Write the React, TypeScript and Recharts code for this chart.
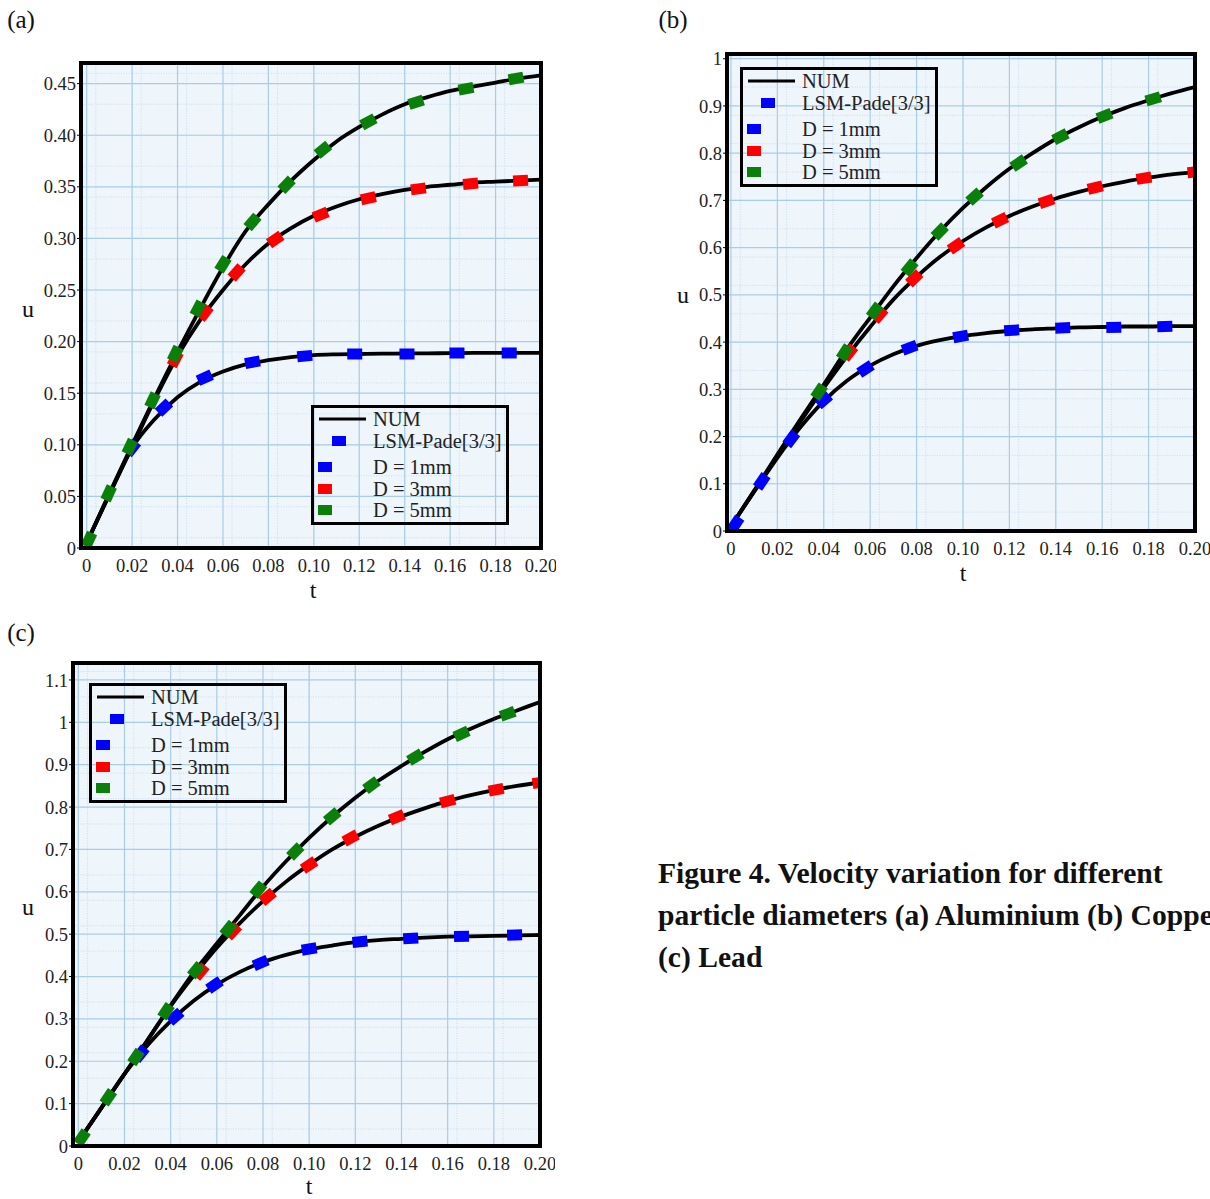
import {
  ComposedChart,
  Line,
  Scatter,
  XAxis,
  YAxis,
  CartesianGrid,
  ReferenceArea,
  Legend,
} from "recharts";

const SERIF = '"Liberation Serif", "Times New Roman", serif';
const BLUE = "#0000ff";
const RED = "#ff0000";
const GREEN = "#0a7f0a";

// time grid of the NUM curves
const tValues = [
  0, 0.01, 0.02, 0.03, 0.04, 0.05, 0.06, 0.07, 0.08, 0.09, 0.1, 0.11, 0.12,
  0.13, 0.14, 0.15, 0.16, 0.17, 0.18, 0.19, 0.2,
];
const xTicks = [0, 0.02, 0.04, 0.06, 0.08, 0.1, 0.12, 0.14, 0.16, 0.18, 0.2];
const xTickLabels = ["0", "0.02", "0.04", "0.06", "0.08", "0.10", "0.12", "0.14", "0.16", "0.18", "0.20"];

// (a) Aluminium
const aD1 = [0.005, 0.052, 0.097, 0.125, 0.146, 0.161, 0.171, 0.178, 0.182, 0.185, 0.187, 0.1877, 0.188, 0.1883, 0.1885, 0.1887, 0.1888, 0.189, 0.189, 0.189, 0.189];
const aD3 = [0.005, 0.052, 0.098, 0.144, 0.186, 0.221, 0.25, 0.275, 0.295, 0.31, 0.322, 0.331, 0.338, 0.343, 0.347, 0.35, 0.352, 0.354, 0.355, 0.356, 0.357];
const aD5 = [0.005, 0.053, 0.1, 0.146, 0.19, 0.232, 0.272, 0.307, 0.333, 0.356, 0.376, 0.394, 0.408, 0.42, 0.43, 0.437, 0.443, 0.447, 0.451, 0.455, 0.458];
const aBlueMarks = [[0.02, 0.097], [0.034, 0.136], [0.052, 0.165], [0.073, 0.18], [0.096, 0.186], [0.118, 0.188], [0.141, 0.188], [0.163, 0.189], [0.186, 0.189]];
const aRedMarks = [[0.039, 0.183], [0.052, 0.228], [0.066, 0.267], [0.083, 0.299], [0.103, 0.323], [0.124, 0.339], [0.146, 0.348], [0.169, 0.353], [0.191, 0.356]];
const aGreenMarks = [[0.001, 0.008], [0.0097, 0.053], [0.019, 0.098], [0.029, 0.143], [0.039, 0.188], [0.049, 0.232], [0.06, 0.275], [0.073, 0.316], [0.088, 0.352], [0.104, 0.386], [0.124, 0.413], [0.145, 0.432], [0.167, 0.445], [0.189, 0.455]];
const aYTicks = [0, 0.05, 0.1, 0.15, 0.2, 0.25, 0.3, 0.35, 0.4, 0.45];
const aYLabels = ["0", "0.05", "0.10", "0.15", "0.20", "0.25", "0.30", "0.35", "0.40", "0.45"];

// (b) Copper
const bD1 = [0.01, 0.083, 0.155, 0.22, 0.275, 0.318, 0.35, 0.374, 0.392, 0.404, 0.413, 0.419, 0.424, 0.427, 0.429, 0.431, 0.432, 0.433, 0.433, 0.434, 0.434];
const bD3 = [0.01, 0.085, 0.16, 0.232, 0.303, 0.37, 0.432, 0.49, 0.538, 0.58, 0.614, 0.643, 0.667, 0.687, 0.704, 0.718, 0.73, 0.74, 0.748, 0.755, 0.76];
const bD5 = [0.01, 0.085, 0.162, 0.237, 0.31, 0.385, 0.452, 0.518, 0.578, 0.634, 0.684, 0.728, 0.767, 0.8, 0.83, 0.855, 0.877, 0.896, 0.912, 0.927, 0.94];
const bBlueMarks = [[0.002, 0.015], [0.0133, 0.105], [0.026, 0.195], [0.04, 0.277], [0.058, 0.343], [0.077, 0.388], [0.099, 0.412], [0.121, 0.425], [0.143, 0.43], [0.165, 0.431], [0.187, 0.433]];
const bRedMarks = [[0.051, 0.378], [0.064, 0.458], [0.079, 0.535], [0.097, 0.604], [0.116, 0.658], [0.136, 0.698], [0.157, 0.727], [0.178, 0.747], [0.2, 0.76]];
const bGreenMarks = [[0.038, 0.295], [0.049, 0.378], [0.062, 0.466], [0.077, 0.558], [0.09, 0.634], [0.105, 0.708], [0.124, 0.779], [0.142, 0.835], [0.161, 0.879], [0.182, 0.915]];
const bYTicks = [0, 0.1, 0.2, 0.3, 0.4, 0.5, 0.6, 0.7, 0.8, 0.9, 1];
const bYLabels = ["0", "0.1", "0.2", "0.3", "0.4", "0.5", "0.6", "0.7", "0.8", "0.9", "1"];

// (c) Lead
const cD1 = [0.01, 0.09, 0.17, 0.238, 0.295, 0.343, 0.381, 0.411, 0.434, 0.451, 0.464, 0.473, 0.481, 0.486, 0.489, 0.492, 0.494, 0.495, 0.496, 0.497, 0.498];
const cD3 = [0.01, 0.09, 0.17, 0.25, 0.33, 0.402, 0.468, 0.526, 0.578, 0.624, 0.664, 0.7, 0.73, 0.756, 0.778, 0.797, 0.814, 0.828, 0.84, 0.85, 0.858];
const cD5 = [0.01, 0.09, 0.17, 0.25, 0.332, 0.41, 0.478, 0.545, 0.612, 0.672, 0.727, 0.777, 0.822, 0.862, 0.897, 0.93, 0.96, 0.985, 1.008, 1.028, 1.048];
const cBlueMarks = [[0.027, 0.218], [0.042, 0.305], [0.059, 0.38], [0.079, 0.432], [0.1, 0.465], [0.122, 0.482], [0.144, 0.49], [0.166, 0.495], [0.189, 0.498]];
const cRedMarks = [[0.053, 0.412], [0.067, 0.507], [0.082, 0.588], [0.1, 0.663], [0.118, 0.727], [0.138, 0.776], [0.16, 0.814], [0.181, 0.841], [0.2, 0.858]];
const cGreenMarks = [[0.0016, 0.02], [0.013, 0.115], [0.025, 0.21], [0.038, 0.318], [0.051, 0.415], [0.065, 0.512], [0.078, 0.605], [0.094, 0.695], [0.11, 0.778], [0.127, 0.852], [0.146, 0.918], [0.166, 0.973], [0.186, 1.02]];
const cYTicks = [0, 0.1, 0.2, 0.3, 0.4, 0.5, 0.6, 0.7, 0.8, 0.9, 1, 1.1];
const cYLabels = ["0", "0.1", "0.2", "0.3", "0.4", "0.5", "0.6", "0.7", "0.8", "0.9", "1", "1.1"];

const legendLabels = ["NUM", "LSM-Pade[3/3]", "D = 1mm", "D = 3mm", "D = 5mm"];
const captionLines = [
  "Figure 4. Velocity variation for different",
  "particle diameters (a) Aluminium (b) Copper",
  "(c) Lead",
];

function slopeAngle(curve: number[], t: number, ratio: number) {
  const i = Math.min(Math.max(Math.floor(t / 0.01), 0), curve.length - 2);
  const du = (curve[i + 1] - curve[i]) / 0.01;
  return (-Math.atan(du * ratio) * 180) / Math.PI;
}

const markShape = (color: string) => (props: any) => {
  const { cx, cy, payload } = props;
  if (cx == null || cy == null) return <g />;
  return (
    <rect
      x={cx - 7.5}
      y={cy - 5.5}
      width={15}
      height={11}
      fill={color}
      transform={`rotate(${payload.angle} ${cx} ${cy})`}
    />
  );
};

function LegendBox() {
  const rows = [14, 36, 62, 84, 105];
  const colors = [null, BLUE, BLUE, RED, GREEN];
  return (
    <svg width={198} height={120} style={{ overflow: "visible", display: "block" }}>
      <rect x={1.5} y={1.5} width={195} height={117} fill="none" stroke="#000" strokeWidth={3} />
      <line x1={8} x2={55} y1={rows[0]} y2={rows[0]} stroke="#000" strokeWidth={3} />
      {rows.map((ry, i) => (
        <g key={i}>
          {colors[i] && (
            <rect x={i === 1 ? 21 : 7} y={ry - 5} width={14} height={10} fill={colors[i] as string} />
          )}
          <text x={62} y={ry + 7} fontFamily={SERIF} fontSize={20.5} fill="#222">
            {legendLabels[i]}
          </text>
        </g>
      ))}
    </svg>
  );
}

type PanelProps = {
  left: number;
  top: number;
  width: number;
  height: number;
  right: number;
  xMin: number;
  yMax: number;
  yMinorStep: number;
  yTicks: number[];
  yLabels: string[];
  d1: number[];
  d3: number[];
  d5: number[];
  blue: number[][];
  red: number[][];
  green: number[][];
  legendX: number;
  legendY: number;
};

function Panel(p: PanelProps) {
  const plotW = p.width - 60 - p.right;
  const plotH = p.height - 60;
  const ratio = plotH / p.yMax / (plotW / (0.2 - p.xMin));
  const rows = tValues.map((t, i) => ({ t, d1: p.d1[i], d3: p.d3[i], d5: p.d5[i] }));
  const marks = (pairs: number[][], curve: number[]) =>
    pairs.map(([t, u]) => ({ t, u, angle: slopeAngle(curve, t, ratio) }));
  const minorX = Array.from({ length: 51 }, (_, i) => i * 0.004);
  const minorY = Array.from({ length: Math.floor(p.yMax / p.yMinorStep) + 1 }, (_, i) => i * p.yMinorStep);
  const tickStyle = { fontSize: 18.5, fill: "#222", fontFamily: SERIF };

  return (
    <div style={{ position: "absolute", left: p.left, top: p.top }}>
      <ComposedChart
        width={p.width}
        height={p.height}
        data={rows}
        margin={{ top: 10, right: p.right, bottom: 0, left: 0 }}
      >
        <XAxis xAxisId="minor" dataKey="t" type="number" hide domain={[p.xMin, 0.2]} allowDataOverflow ticks={minorX} />
        <YAxis yAxisId="minor" type="number" hide domain={[0, p.yMax]} allowDataOverflow ticks={minorY} />
        <CartesianGrid
          xAxisId="minor"
          yAxisId="minor"
          stroke="#c8def0"
          strokeDasharray="1 1.5"
          fill="#eef5fb"
          fillOpacity={1}
        />
        <CartesianGrid stroke="#a9cde6" strokeWidth={1.2} />
        <XAxis
          dataKey="t"
          type="number"
          domain={[p.xMin, 0.2]}
          allowDataOverflow
          ticks={xTicks}
          interval={0}
          tickFormatter={(_v: number, i: number) => xTickLabels[i]}
          tick={tickStyle}
          tickLine={false}
          axisLine={false}
          tickMargin={5}
          height={50}
        />
        <YAxis
          type="number"
          domain={[0, p.yMax]}
          allowDataOverflow
          ticks={p.yTicks}
          interval={0}
          tickFormatter={(_v: number, i: number) => p.yLabels[i]}
          tick={tickStyle}
          tickLine={{ stroke: "#000" }}
          tickSize={4}
          tickMargin={1}
          axisLine={false}
          width={60}
        />
        <Line dataKey="d1" type="monotone" stroke="#000" strokeWidth={3.8} dot={false} isAnimationActive={false} />
        <Line dataKey="d3" type="monotone" stroke="#000" strokeWidth={3.8} dot={false} isAnimationActive={false} />
        <Line dataKey="d5" type="monotone" stroke="#000" strokeWidth={3.8} dot={false} isAnimationActive={false} />
        <Scatter data={marks(p.blue, p.d1)} dataKey="u" shape={markShape(BLUE)} isAnimationActive={false} />
        <Scatter data={marks(p.red, p.d3)} dataKey="u" shape={markShape(RED)} isAnimationActive={false} />
        <Scatter data={marks(p.green, p.d5)} dataKey="u" shape={markShape(GREEN)} isAnimationActive={false} />
        <ReferenceArea
          x1={p.xMin}
          x2={0.2}
          y1={0}
          y2={p.yMax}
          fill="none"
          stroke="#000"
          strokeWidth={4}
          ifOverflow="visible"
          {...({ zIndex: 3000 } as any)}
        />
        <Legend
          layout="vertical"
          align="center"
          verticalAlign="middle"
          wrapperStyle={{ left: p.legendX, top: p.legendY, width: 198, height: 120 }}
          content={() => <LegendBox />}
        />
      </ComposedChart>
    </div>
  );
}

function Txt({ x, y, size, children }: { x: number; y: number; size: number; children: any }) {
  return (
    <div
      style={{
        position: "absolute",
        left: x,
        top: y,
        transform: "translate(-50%, -50%)",
        fontFamily: SERIF,
        fontSize: size,
        lineHeight: 1,
        color: "#111",
        whiteSpace: "nowrap",
      }}
    >
      {children}
    </div>
  );
}

export default function App() {
  return (
    <div
      style={{
        position: "absolute",
        left: 0,
        top: 0,
        width: 1210,
        height: 1199,
        background: "#fff",
        overflow: "hidden",
        fontFamily: SERIF,
      }}
    >
      <Txt x={21} y={19} size={25}>(a)</Txt>
      <Txt x={673} y={19} size={25}>(b)</Txt>
      <Txt x={21} y={632} size={25}>(c)</Txt>

      <Panel
        left={21}
        top={53}
        width={535}
        height={545}
        right={15}
        xMin={-0.0025}
        yMax={0.47}
        yMinorStep={0.01}
        yTicks={aYTicks}
        yLabels={aYLabels}
        d1={aD1}
        d3={aD3}
        d5={aD5}
        blue={aBlueMarks}
        red={aRedMarks}
        green={aGreenMarks}
        legendX={290}
        legendY={352}
      />
      <Panel
        left={667}
        top={44}
        width={558}
        height={537}
        right={30}
        xMin={-0.0017}
        yMax={1.01}
        yMinorStep={0.02}
        yTicks={bYTicks}
        yLabels={bYLabels}
        d1={bD1}
        d3={bD3}
        d5={bD5}
        blue={bBlueMarks}
        red={bRedMarks}
        green={bGreenMarks}
        legendX={73}
        legendY={23}
      />
      <Panel
        left={13}
        top={653}
        width={542}
        height={543}
        right={15}
        xMin={-0.0023}
        yMax={1.14}
        yMinorStep={0.02}
        yTicks={cYTicks}
        yLabels={cYLabels}
        d1={cD1}
        d3={cD3}
        d5={cD5}
        blue={cBlueMarks}
        red={cRedMarks}
        green={cGreenMarks}
        legendX={76}
        legendY={30}
      />

      <Txt x={28} y={309} size={24}>u</Txt>
      <Txt x={313} y={590} size={24}>t</Txt>
      <Txt x={683} y={295} size={24}>u</Txt>
      <Txt x={963} y={573} size={24}>t</Txt>
      <Txt x={28} y={907} size={24}>u</Txt>
      <Txt x={309} y={1186} size={24}>t</Txt>

      <div
        style={{
          position: "absolute",
          left: 658,
          top: 852,
          width: 552,
          overflow: "hidden",
          fontFamily: SERIF,
          fontWeight: 700,
          fontSize: 29.6,
          lineHeight: "42px",
          color: "#111",
          whiteSpace: "nowrap",
        }}
      >
        {captionLines.map((l, i) => (
          <div key={i}>{l}</div>
        ))}
      </div>
    </div>
  );
}
